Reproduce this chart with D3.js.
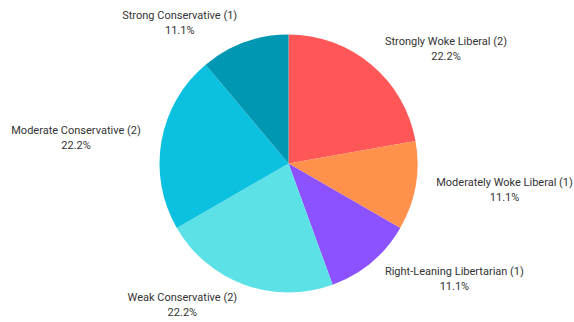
<!DOCTYPE html>
<html>
<head>
<meta charset="utf-8">
<script src="https://cdn.jsdelivr.net/npm/d3@7/dist/d3.min.js"></script>
<style>
  html, body { margin: 0; padding: 0; background: #fff; }
  svg { display: block; }
  .lbl { font-family: "Roboto", "Noto Sans", sans-serif; font-size: 11px; fill: #333; }
</style>
</head>
<body>
<svg id="chart" width="574" height="322"></svg>
<script>
// Political leaning breakdown
const categories = [
  "Strongly Woke Liberal",
  "Moderately Woke Liberal",
  "Right-Leaning Libertarian",
  "Weak Conservative",
  "Moderate Conservative",
  "Strong Conservative"
];
const counts = [2, 1, 1, 2, 2, 1];
const colors = ["#FF5757", "#FF914D", "#8C52FF", "#5CE1E6", "#0CC0DF", "#0097B2"];

const width = 574, height = 322;
const cx = 288.5, cy = 163.5, radius = 129, labelRadius = 150;

const svg = d3.select("#chart");
const g = svg.append("g").attr("transform", `translate(${cx},${cy})`);

const data = categories.map((c, i) => ({ name: c, value: counts[i], color: colors[i] }));
const total = d3.sum(counts);

const pie = d3.pie().value(d => d.value).sort(null);
const arc = d3.arc().innerRadius(0).outerRadius(radius);
const arcs = pie(data);

g.selectAll("path.slice")
  .data(arcs)
  .join("path")
  .attr("class", "slice")
  .attr("d", arc)
  .attr("fill", d => d.data.color);

// Labels: text edge sits on a ring outside the pie, block centred vertically on it
const lineGap = 14.5;
const fmt = d3.format(".1%");
const labels = g.selectAll("g.label")
  .data(arcs)
  .join("g")
  .attr("class", "label")
  .attr("transform", d => {
    const a = (d.startAngle + d.endAngle) / 2;
    return `translate(${labelRadius * Math.sin(a)},${-labelRadius * Math.cos(a)})`;
  });

labels.each(function(d) {
  const a = (d.startAngle + d.endAngle) / 2;
  const right = Math.sin(a) >= 0;
  const sel = d3.select(this);
  const t1 = sel.append("text")
    .attr("class", "lbl")
    .attr("dy", "0.35em")
    .attr("y", -lineGap / 2)
    .text(`${d.data.name} (${d.data.value})`);
  const w = t1.node().getComputedTextLength();
  t1.attr("x", right ? 0 : -w);
  sel.append("text")
    .attr("class", "lbl")
    .attr("dy", "0.35em")
    .attr("y", lineGap / 2)
    .attr("x", right ? w / 2 : -w / 2)
    .attr("text-anchor", "middle")
    .text(fmt(d.data.value / total));
});
</script>
</body>
</html>
